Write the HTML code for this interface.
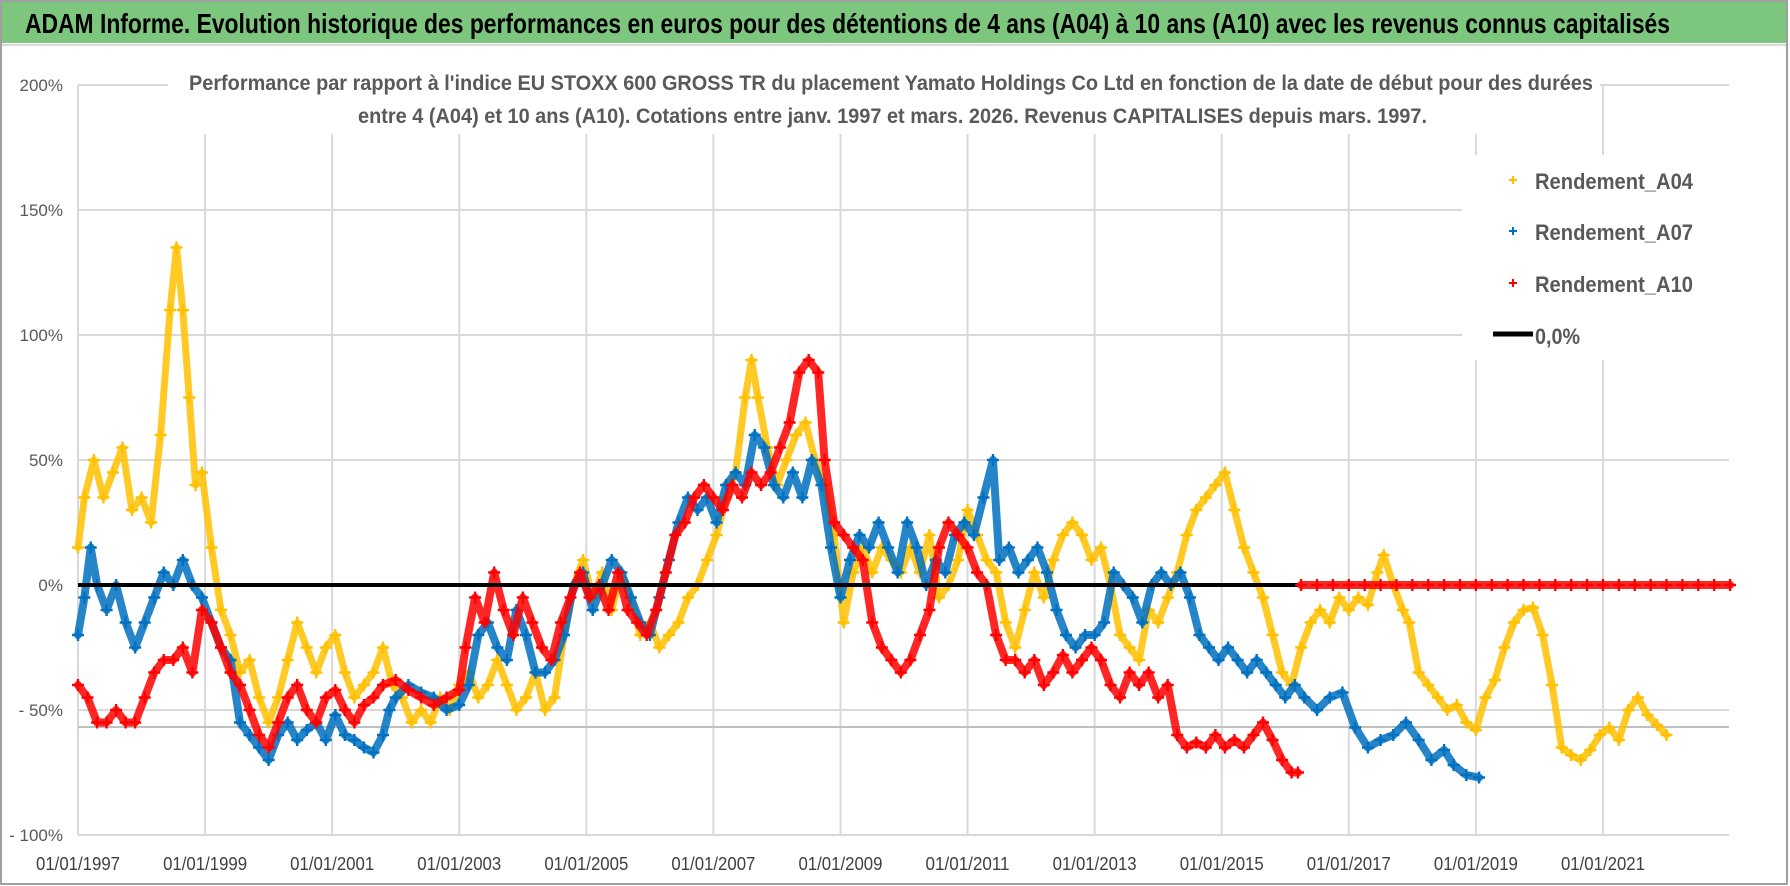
<!DOCTYPE html>
<html><head><meta charset="utf-8"><style>
html,body{margin:0;padding:0;background:#fff;}
svg{display:block;font-family:"Liberation Sans Narrow","Liberation Sans",sans-serif;}
</style></head><body>
<svg id="chart" width="1790" height="886" viewBox="0 0 1790 886" xmlns="http://www.w3.org/2000/svg">
<rect x="0" y="0" width="1790" height="886" fill="#fff"/>
<rect x="1" y="1" width="1786" height="883" fill="none" stroke="#a0a0a0" stroke-width="2"/>
<rect x="2" y="2" width="1784" height="41" fill="#7dc67e"/>
<line x1="2" y1="45" x2="1786" y2="45" stroke="#d9d9d9" stroke-width="2"/>
<text x="25" y="33" font-size="28" font-weight="bold" fill="#000" textLength="1645" lengthAdjust="spacingAndGlyphs">ADAM Informe. Evolution historique des performances en euros pour des détentions de 4 ans (A04) à 10 ans (A10) avec les revenus connus capitalisés</text>
<g id="grid"></g>
<line x1="78" y1="727" x2="1729" y2="727" stroke="#bfbfbf" stroke-width="2"/>
<g id="series"></g>
<g id="axes"></g>
<rect x="168" y="62" width="1432" height="72" fill="#fff"/>
<text x="189" y="90" font-size="21" font-weight="bold" fill="#595959" textLength="1404" lengthAdjust="spacingAndGlyphs">Performance par rapport à l'indice EU STOXX 600 GROSS TR  du placement Yamato Holdings Co Ltd en fonction de la date de début pour des durées</text>
<text x="358" y="123" font-size="21" font-weight="bold" fill="#595959" textLength="1069" lengthAdjust="spacingAndGlyphs">entre 4 (A04) et 10 ans (A10).  Cotations entre janv. 1997 et mars. 2026.  Revenus CAPITALISES depuis mars. 1997.</text>
<g>
<rect x="1462" y="155" width="268" height="205" fill="#fff"/>
<g><path d="M1509 180h8M1513 176v8" stroke="#ffc000" stroke-width="2"/><text x="1535" y="189" font-size="22" font-weight="bold" fill="#595959" textLength="158" lengthAdjust="spacingAndGlyphs">Rendement_A04</text></g>
<g><path d="M1509 231h8M1513 227v8" stroke="#0070c0" stroke-width="2"/><text x="1535" y="240" font-size="22" font-weight="bold" fill="#595959" textLength="158" lengthAdjust="spacingAndGlyphs">Rendement_A07</text></g>
<g><path d="M1509 283h8M1513 279v8" stroke="#ff0000" stroke-width="2"/><text x="1535" y="292" font-size="22" font-weight="bold" fill="#595959" textLength="158" lengthAdjust="spacingAndGlyphs">Rendement_A10</text></g>
<g><line x1="1493" y1="334" x2="1533" y2="334" stroke="#000" stroke-width="5"/><text x="1535" y="344" font-size="22" font-weight="bold" fill="#595959" textLength="45" lengthAdjust="spacingAndGlyphs">0,0%</text></g>
</g>
</svg>
<script>
const yTicks = [200, 150, 100, 50, 0, -50, -100];
const yTickLabels = ["200%", "150%", "100%", "50%", "0%", "- 50%", "- 100%"];
const xTickYears = [1997, 1999, 2001, 2003, 2005, 2007, 2009, 2011, 2013, 2015, 2017, 2019, 2021];
const xTickLabels = ["01/01/1997","01/01/1999","01/01/2001","01/01/2003","01/01/2005","01/01/2007","01/01/2009","01/01/2011","01/01/2013","01/01/2015","01/01/2017","01/01/2019","01/01/2021"];

const a04Years = [1997.0,1997.1,1997.25,1997.4,1997.55,1997.7,1997.85,1998.0,1998.15,1998.3,1998.45,1998.55,1998.65,1998.75,1998.85,1998.95,1999.1,1999.25,1999.4,1999.55,1999.7,1999.85,2000.0,2000.15,2000.3,2000.45,2000.6,2000.75,2000.9,2001.05,2001.2,2001.35,2001.5,2001.65,2001.8,2001.95,2002.1,2002.25,2002.4,2002.55,2002.7,2002.85,2003.0,2003.15,2003.3,2003.45,2003.6,2003.75,2003.9,2004.05,2004.2,2004.35,2004.5,2004.65,2004.8,2004.95,2005.1,2005.25,2005.4,2005.55,2005.7,2005.85,2006.0,2006.15,2006.3,2006.45,2006.6,2006.75,2006.9,2007.05,2007.2,2007.35,2007.5,2007.6,2007.7,2007.85,2008.0,2008.15,2008.3,2008.45,2008.6,2008.75,2008.9,2009.05,2009.2,2009.35,2009.5,2009.65,2009.8,2009.95,2010.1,2010.25,2010.4,2010.55,2010.7,2010.85,2011.0,2011.15,2011.3,2011.45,2011.6,2011.75,2011.9,2012.05,2012.2,2012.35,2012.5,2012.65,2012.8,2012.95,2013.1,2013.25,2013.4,2013.55,2013.7,2013.85,2014.0,2014.15,2014.3,2014.45,2014.6,2014.75,2014.9,2015.05,2015.2,2015.35,2015.5,2015.65,2015.8,2015.95,2016.1,2016.25,2016.4,2016.55,2016.7,2016.85,2017.0,2017.15,2017.3,2017.45,2017.55,2017.7,2017.85,2017.95,2018.1,2018.25,2018.4,2018.55,2018.7,2018.85,2019.0,2019.15,2019.3,2019.45,2019.6,2019.75,2019.9,2020.05,2020.2,2020.35,2020.5,2020.65,2020.8,2020.95,2021.1,2021.25,2021.4,2021.55,2021.7,2021.85,2022.0,2022.1,2022.2];
const a04Values = [15,35,50,35,45,55,30,35,25,60,110,135,110,75,40,45,15,-10,-20,-35,-30,-45,-55,-45,-30,-15,-25,-35,-25,-20,-35,-45,-40,-35,-25,-40,-45,-55,-50,-55,-45,-50,-40,-35,-45,-40,-30,-40,-50,-45,-35,-50,-45,-20,0,10,-5,5,-10,5,-5,-20,-15,-25,-20,-15,-5,0,10,20,35,45,75,90,75,55,40,50,60,65,50,40,20,-15,5,15,5,15,10,5,15,5,20,-5,0,10,30,20,10,5,-15,-25,-10,5,-5,10,20,25,20,10,15,0,-20,-25,-30,-10,-15,-5,5,20,30,35,40,45,30,15,5,-5,-20,-35,-40,-25,-15,-10,-15,-5,-10,-5,-8,5,12,0,-10,-15,-35,-40,-45,-50,-48,-55,-58,-45,-38,-25,-15,-10,-9,-20,-40,-65,-68,-70,-66,-60,-57,-62,-50,-45,-52,-56,-60];

const a07Years = [1997.0,1997.1,1997.2,1997.3,1997.45,1997.6,1997.75,1997.9,1998.05,1998.2,1998.35,1998.5,1998.65,1998.8,1998.95,1999.1,1999.25,1999.4,1999.55,1999.7,1999.85,2000.0,2000.15,2000.3,2000.45,2000.6,2000.75,2000.9,2001.05,2001.2,2001.35,2001.5,2001.65,2001.8,2001.9,2002.0,2002.2,2002.4,2002.6,2002.8,2003.0,2003.15,2003.3,2003.45,2003.6,2003.75,2003.9,2004.05,2004.2,2004.35,2004.5,2004.65,2004.8,2004.95,2005.1,2005.25,2005.4,2005.55,2005.7,2005.85,2006.0,2006.15,2006.3,2006.45,2006.6,2006.75,2006.9,2007.05,2007.2,2007.35,2007.5,2007.65,2007.8,2007.95,2008.1,2008.25,2008.4,2008.55,2008.7,2008.85,2009.0,2009.15,2009.3,2009.45,2009.6,2009.75,2009.9,2010.05,2010.2,2010.35,2010.5,2010.65,2010.8,2010.95,2011.1,2011.25,2011.4,2011.5,2011.65,2011.8,2011.95,2012.1,2012.25,2012.4,2012.55,2012.7,2012.85,2013.0,2013.15,2013.3,2013.45,2013.6,2013.75,2013.9,2014.05,2014.2,2014.35,2014.5,2014.65,2014.8,2014.95,2015.1,2015.25,2015.4,2015.55,2015.7,2015.85,2016.0,2016.15,2016.3,2016.5,2016.7,2016.9,2017.1,2017.3,2017.5,2017.7,2017.9,2018.1,2018.3,2018.5,2018.65,2018.85,2019.05,2019.25];
const a07Values = [-20,-5,15,0,-10,0,-15,-25,-15,-5,5,0,10,0,-5,-15,-25,-30,-55,-60,-65,-70,-60,-55,-62,-58,-55,-62,-52,-60,-62,-65,-67,-60,-50,-45,-40,-43,-45,-50,-48,-40,-20,-15,-25,-30,-10,-20,-35,-35,-30,-20,0,5,-10,0,10,5,-5,-15,-20,-5,10,25,35,30,35,25,40,45,40,60,55,40,35,45,35,50,40,15,-5,10,20,15,25,15,5,25,15,0,10,5,20,25,20,35,50,10,15,5,10,15,5,-10,-20,-25,-20,-20,-15,5,0,-5,-15,0,5,0,5,-5,-20,-25,-30,-25,-30,-35,-30,-35,-40,-45,-40,-45,-50,-45,-43,-57,-65,-62,-60,-55,-62,-70,-66,-72,-76,-77];

const a10Years = [1997.0,1997.15,1997.3,1997.45,1997.6,1997.75,1997.9,1998.05,1998.2,1998.35,1998.5,1998.65,1998.8,1998.95,1999.1,1999.25,1999.4,1999.55,1999.7,1999.85,2000.0,2000.15,2000.3,2000.45,2000.6,2000.75,2000.9,2001.05,2001.2,2001.35,2001.5,2001.65,2001.8,2002.0,2002.2,2002.4,2002.6,2002.8,2003.0,2003.1,2003.25,2003.4,2003.55,2003.7,2003.85,2004.0,2004.15,2004.3,2004.45,2004.6,2004.75,2004.9,2005.05,2005.2,2005.35,2005.5,2005.65,2005.8,2005.95,2006.1,2006.25,2006.4,2006.55,2006.7,2006.85,2007.0,2007.15,2007.3,2007.45,2007.6,2007.75,2007.9,2008.05,2008.2,2008.35,2008.5,2008.65,2008.75,2008.9,2009.05,2009.2,2009.35,2009.5,2009.65,2009.8,2009.95,2010.1,2010.25,2010.4,2010.55,2010.7,2010.85,2011.0,2011.15,2011.3,2011.45,2011.6,2011.75,2011.9,2012.05,2012.2,2012.35,2012.5,2012.65,2012.8,2012.95,2013.1,2013.25,2013.4,2013.55,2013.7,2013.85,2014.0,2014.15,2014.3,2014.45,2014.6,2014.75,2014.9,2015.05,2015.2,2015.35,2015.5,2015.65,2015.8,2015.95,2016.1,2016.2];
const a10Values = [-40,-45,-55,-55,-50,-55,-55,-45,-35,-30,-30,-25,-35,-10,-15,-25,-35,-40,-50,-60,-65,-55,-45,-40,-50,-55,-45,-42,-50,-55,-48,-45,-40,-38,-42,-45,-48,-45,-42,-25,-5,-15,5,-10,-20,-5,-15,-25,-30,-15,-5,5,-5,0,-10,5,-10,-15,-20,-10,5,20,25,35,40,35,30,40,35,45,40,45,55,65,85,90,85,50,25,20,15,10,-15,-25,-30,-35,-30,-20,-10,15,25,20,15,5,0,-20,-30,-30,-35,-30,-40,-35,-28,-35,-30,-25,-30,-40,-45,-35,-40,-35,-45,-40,-60,-65,-63,-65,-60,-65,-62,-65,-60,-55,-62,-70,-75,-75];
const a10ZeroYears = [2016.25,2016.5,2016.75,2017.0,2017.25,2017.5,2017.75,2018.0,2018.25,2018.5,2018.75,2019.0,2019.25,2019.5,2019.75,2020.0,2020.25,2020.5,2020.75,2021.0,2021.25,2021.5,2021.75,2022.0,2022.25,2022.5,2022.75,2023.0];
const a10ZeroValues = [0,0,0,0,0,0,0,0,0,0,0,0,0,0,0,0,0,0,0,0,0,0,0,0,0,0,0,0];

const NS = "http://www.w3.org/2000/svg";
const X0 = 78, YEAR_PX = 63.54, Y_ZERO = 585, PCT_PX = 2.5, X_END = 1729;
function xScale(year){ return X0 + (year - 1997) * YEAR_PX; }
function yScale(v){ return Y_ZERO - v * PCT_PX; }
function mk(tag, attrs){ const e = document.createElementNS(NS, tag); for (const k in attrs) e.setAttribute(k, attrs[k]); return e; }

const grid = document.getElementById('grid');
yTicks.forEach((t, i) => {
  const l = mk('line', {x1: X0, x2: X_END, y1: yScale(t), y2: yScale(t), stroke: '#d9d9d9', 'stroke-width': 2});
  
  
  grid.appendChild(l);
});
xTickYears.forEach((yr, i) => {
  const l = mk('line', {x1: xScale(yr), x2: xScale(yr), y1: yScale(200), y2: yScale(-100), stroke: '#d9d9d9', 'stroke-width': 2});
  
  
  grid.appendChild(l);
});

const axes = document.getElementById('axes');
yTicks.forEach((t, i) => {
  const tx = mk('text', {x: 63, y: yScale(t) + 6, 'text-anchor': 'end', 'font-size': 17, fill: '#595959'});
  tx.textContent = yTickLabels[i];
  
  
  axes.appendChild(tx);
});
xTickYears.forEach((yr, i) => {
  const tx = mk('text', {x: xScale(yr), y: 870, 'text-anchor': 'middle', 'font-size': 18, fill: '#404040', textLength: 84, lengthAdjust: 'spacingAndGlyphs'});
  tx.textContent = xTickLabels[i];
  
  
  axes.appendChild(tx);
});

const series = document.getElementById('series');
function drawSeries(name, years, values, color, width){
  const g = mk('g', {});
  
  
  const pts = years.map((yr, i) => xScale(yr).toFixed(1) + ',' + yScale(values[i]).toFixed(1)).join(' ');
  const pl = mk('polyline', {points: pts, fill: 'none', stroke: color, 'stroke-width': width, 'stroke-linejoin': 'round', 'stroke-linecap': 'round', opacity: 0.85});
  
  
  g.appendChild(pl);
  let d = '';
  years.forEach((yr, i) => { const x = xScale(yr), y = yScale(values[i]); d += 'M' + (x - 6) + ' ' + y + 'h12M' + x + ' ' + (y - 6) + 'v12'; });
  const mp = mk('path', {d: d, stroke: color, 'stroke-width': 2.4, fill: 'none'});
  
  
  g.appendChild(mp);
  series.appendChild(g);
}
drawSeries('series-a04', a04Years, a04Values, '#ffc000', 7);
drawSeries('series-a07', a07Years, a07Values, '#0070c0', 8);
drawSeries('series-a10', a10Years, a10Values, '#ff0000', 8);

const zl = mk('line', {x1: X0, x2: xScale(2016.2), y1: yScale(0), y2: yScale(0), stroke: '#000', 'stroke-width': 4});


series.appendChild(zl);
drawSeries('series-a10-zero', a10ZeroYears, a10ZeroValues, '#ff0000', 8);
</script>
</body></html>
